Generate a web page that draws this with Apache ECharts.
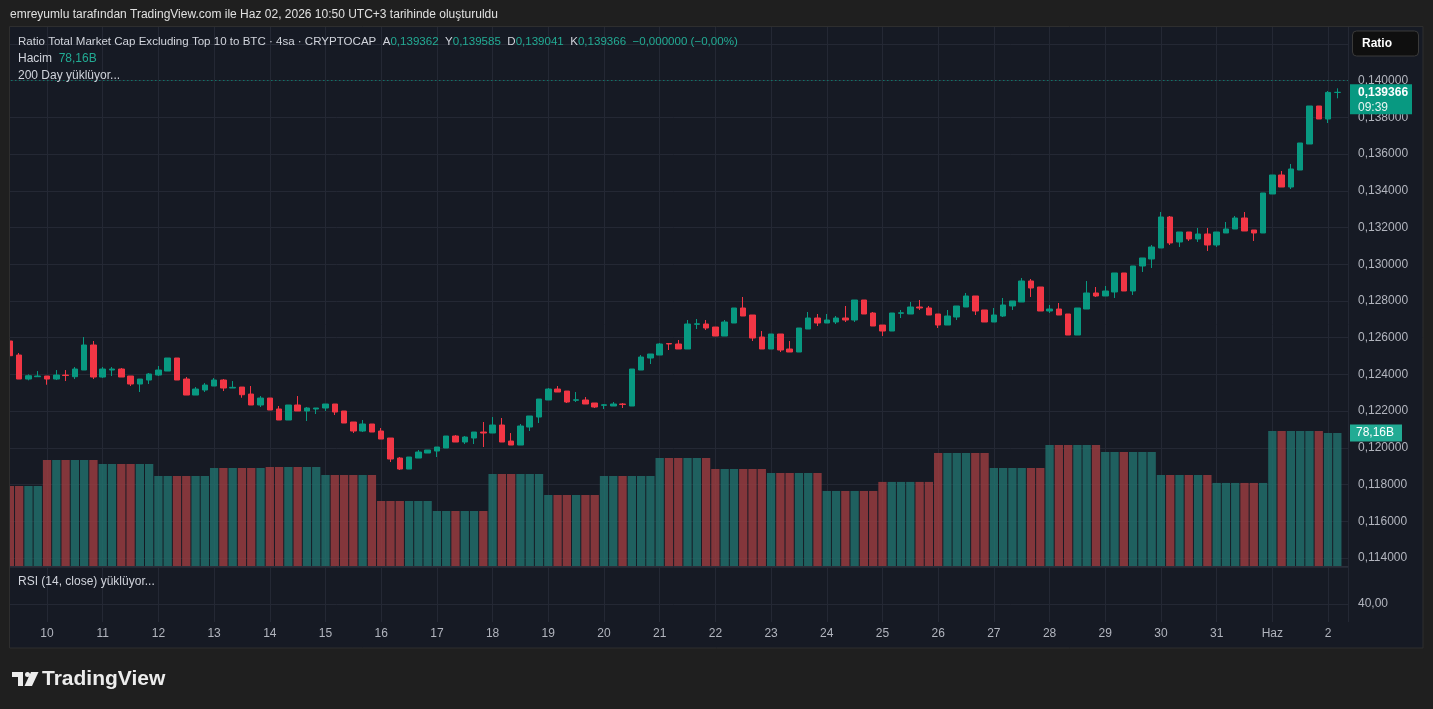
<!DOCTYPE html>
<html>
<head>
<meta charset="utf-8">
<title>Ratio Total Market Cap Excluding Top 10 to BTC</title>
<script src="https://cdn.jsdelivr.net/npm/echarts@6/dist/echarts.min.js"></script>
<style>
html, body { margin: 0; padding: 0; background: #1f1f1f; }
#main { width: 1433px; height: 709px; }
</style>
</head>
<body>
<div id="main"></div>
<script>
// 4 saatlik mumlar, soldan saga (ilk mum 9'u 11:00)
var opens = [
 0.125822, 0.125059, 0.123751, 0.123877, 0.123915, 0.123751, 0.123969, 0.123877, 0.124242, 0.125604,
 0.123860, 0.124242, 0.124296, 0.123915, 0.123479, 0.123697, 0.123969, 0.124187, 0.124896, 0.123751,
 0.122879, 0.123152, 0.123370, 0.123697, 0.123261, 0.123315, 0.122934, 0.122336, 0.122716, 0.122118,
 0.121519, 0.122336, 0.122009, 0.122118, 0.122173, 0.122391, 0.122009, 0.121410, 0.120919, 0.121301,
 0.120919, 0.120538, 0.119448, 0.118849, 0.119448, 0.119721, 0.119830, 0.119993, 0.120647, 0.120320,
 0.120538, 0.120865, 0.120810, 0.121246, 0.120374, 0.120156, 0.121137, 0.121682, 0.122609, 0.123206,
 0.123097, 0.122593, 0.122609, 0.122445, 0.122320, 0.122282, 0.122391, 0.122282, 0.124242, 0.124896,
 0.125059, 0.125686, 0.125659, 0.125386, 0.126732, 0.126748, 0.126584, 0.126094, 0.126802, 0.127620,
 0.127238, 0.126039, 0.125386, 0.126203, 0.125386, 0.125223, 0.126475, 0.127075, 0.126802, 0.126857,
 0.127075, 0.126966, 0.128056, 0.127347, 0.126693, 0.126366, 0.127331, 0.127293, 0.127674, 0.127620,
 0.127293, 0.126693, 0.127129, 0.127674, 0.128274, 0.127511, 0.126857, 0.127184, 0.127729, 0.127947,
 0.129091, 0.128764, 0.127456, 0.127565, 0.127293, 0.126148, 0.127565, 0.128437, 0.128274, 0.128492,
 0.129527, 0.128546, 0.129908, 0.130289, 0.130888, 0.132576, 0.131215, 0.131760, 0.131379, 0.131651,
 0.131052, 0.131705, 0.131923, 0.132522, 0.131869, 0.131705, 0.133829, 0.134864, 0.134210, 0.135136,
 0.136552, 0.138622, 0.137914, 0.139362
];
var highs = [
 0.125877, 0.125168, 0.124007, 0.124187, 0.123915, 0.124242, 0.124242, 0.124405, 0.126039, 0.125822,
 0.124405, 0.124405, 0.124351, 0.123915, 0.123751, 0.124078, 0.124460, 0.124896, 0.124896, 0.123860,
 0.123315, 0.123533, 0.123806, 0.123751, 0.123642, 0.123315, 0.123370, 0.122825, 0.122716, 0.122282,
 0.122336, 0.122825, 0.122227, 0.122173, 0.122391, 0.122391, 0.122009, 0.121410, 0.121519, 0.121301,
 0.121083, 0.120538, 0.119503, 0.119503, 0.119884, 0.119884, 0.120048, 0.120647, 0.120701, 0.120647,
 0.120865, 0.121410, 0.121682, 0.121628, 0.120810, 0.121301, 0.121737, 0.122661, 0.123261, 0.123370,
 0.123097, 0.123043, 0.122770, 0.122445, 0.122391, 0.122500, 0.122445, 0.124296, 0.125059, 0.125114,
 0.125713, 0.125713, 0.125877, 0.126966, 0.127020, 0.126966, 0.126584, 0.126966, 0.127620, 0.128219,
 0.127238, 0.126366, 0.126203, 0.126203, 0.125822, 0.126530, 0.127402, 0.127293, 0.127293, 0.127184,
 0.127729, 0.128056, 0.128056, 0.127402, 0.126693, 0.127347, 0.127511, 0.127947, 0.128056, 0.127729,
 0.127293, 0.127511, 0.127729, 0.128437, 0.128274, 0.127511, 0.127620, 0.128165, 0.128001, 0.129254,
 0.129200, 0.128764, 0.127783, 0.127892, 0.127293, 0.127620, 0.129091, 0.128764, 0.128818, 0.129527,
 0.129527, 0.129908, 0.130344, 0.131052, 0.132849, 0.132631, 0.131760, 0.131760, 0.131978, 0.131978,
 0.131760, 0.132304, 0.132631, 0.132849, 0.131869, 0.133884, 0.134864, 0.135082, 0.135463, 0.136607,
 0.138622, 0.138622, 0.139439, 0.139585
];
var lows = [
 0.124950, 0.123751, 0.123680, 0.123877, 0.123441, 0.123697, 0.123642, 0.123751, 0.124242, 0.123751,
 0.123806, 0.123915, 0.123860, 0.123370, 0.123043, 0.123479, 0.123915, 0.124187, 0.123697, 0.122879,
 0.122879, 0.123043, 0.123370, 0.123097, 0.123261, 0.122732, 0.122336, 0.122227, 0.122064, 0.121519,
 0.121519, 0.122009, 0.121464, 0.121846, 0.122009, 0.121791, 0.121355, 0.120810, 0.120865, 0.120865,
 0.120483, 0.119231, 0.118795, 0.118849, 0.119448, 0.119721, 0.119503, 0.119993, 0.120320, 0.120211,
 0.120211, 0.120048, 0.120810, 0.120320, 0.120156, 0.120156, 0.120919, 0.121355, 0.122609, 0.123043,
 0.122445, 0.122500, 0.122391, 0.122173, 0.122118, 0.122282, 0.122173, 0.122282, 0.124242, 0.124569,
 0.125059, 0.125332, 0.125386, 0.125386, 0.126475, 0.126421, 0.126094, 0.126094, 0.126802, 0.127184,
 0.125822, 0.125386, 0.125386, 0.125223, 0.125223, 0.125223, 0.126475, 0.126639, 0.126802, 0.126748,
 0.126857, 0.126857, 0.127293, 0.126639, 0.126094, 0.126366, 0.127075, 0.127293, 0.127511, 0.127238,
 0.126530, 0.126693, 0.126966, 0.127674, 0.127238, 0.126857, 0.126857, 0.127129, 0.127511, 0.127947,
 0.128219, 0.127456, 0.127347, 0.127238, 0.126148, 0.126148, 0.127565, 0.128219, 0.128274, 0.128165,
 0.128546, 0.128328, 0.129581, 0.129799, 0.130888, 0.131052, 0.130943, 0.131270, 0.131215, 0.130725,
 0.130943, 0.131705, 0.131923, 0.131814, 0.131270, 0.131705, 0.133829, 0.134210, 0.134101, 0.135136,
 0.136552, 0.137914, 0.137696, 0.139041
];
var closes = [
 0.125021, 0.123751, 0.123931, 0.123915, 0.123751, 0.123969, 0.123942, 0.124296, 0.125604, 0.123860,
 0.124296, 0.124296, 0.123860, 0.123479, 0.123751, 0.124024, 0.124242, 0.124896, 0.123697, 0.122879,
 0.123206, 0.123424, 0.123697, 0.123261, 0.123299, 0.122896, 0.122336, 0.122716, 0.122064, 0.121519,
 0.122336, 0.122009, 0.122173, 0.122173, 0.122391, 0.121955, 0.121355, 0.120919, 0.121301, 0.120865,
 0.120483, 0.119394, 0.118849, 0.119503, 0.119775, 0.119884, 0.120048, 0.120647, 0.120320, 0.120592,
 0.120865, 0.120810, 0.121246, 0.120320, 0.120156, 0.121192, 0.121737, 0.122661, 0.123206, 0.123043,
 0.122500, 0.122623, 0.122391, 0.122227, 0.122347, 0.122391, 0.122369, 0.124296, 0.124950, 0.125114,
 0.125659, 0.125659, 0.125386, 0.126748, 0.126759, 0.126530, 0.126094, 0.126857, 0.127620, 0.127184,
 0.125985, 0.125386, 0.126203, 0.125332, 0.125223, 0.126530, 0.127075, 0.126802, 0.126966, 0.127075,
 0.126966, 0.128056, 0.127293, 0.126639, 0.126366, 0.127347, 0.127358, 0.127674, 0.127620, 0.127238,
 0.126693, 0.127184, 0.127729, 0.128274, 0.127456, 0.126857, 0.127238, 0.127783, 0.128001, 0.129091,
 0.128710, 0.127456, 0.127565, 0.127238, 0.126148, 0.127620, 0.128437, 0.128274, 0.128546, 0.129527,
 0.128546, 0.129908, 0.130344, 0.130943, 0.132576, 0.131161, 0.131760, 0.131379, 0.131651, 0.131052,
 0.131760, 0.131923, 0.132522, 0.131814, 0.131705, 0.133884, 0.134864, 0.134210, 0.135191, 0.136607,
 0.138622, 0.137914, 0.139362, 0.139366
];

// gunluk hacim (milyar) ve o gune ait mum sayisi
var dayVolume = [47.0, 62.3, 59.9, 52.9, 57.6, 58.2, 53.5, 38.2, 32.3, 54.1, 41.7, 52.9, 63.5,
                 57.0, 54.7, 44.1, 49.4, 66.4, 57.6, 71.1, 67.0, 53.5, 48.8, 79.3, 78.16];
var dayBars = [4, 6, 6, 6, 6, 6, 6, 6, 6, 6, 6, 6, 6, 6, 6, 6, 6, 6, 6, 6, 6, 6, 6, 6, 2];

// zaman ekseni etiketleri (her gunun ilk mumu)
var dayLabels = ['10', '11', '12', '13', '14', '15', '16', '17', '18', '19', '20', '21',
                 '22', '23', '24', '25', '26', '27', '28', '29', '30', '31', 'Haz', '2'];

var F = "'Liberation Sans', Arial, sans-serif";
var gridColor = '#242834';
var upColor = '#089981', downColor = '#f23645';
var volUp = 'rgba(33,112,108,0.82)', volDown = 'rgba(155,61,65,0.82)';
var xMin = -2, xMax = 144.15;

function tr(v, n) { return v.toFixed(n).replace('.', ','); }

var candles = [], volumes = [];
for (var i = 0; i < opens.length; i++) {
    candles.push([i, opens[i], closes[i], lows[i], highs[i]]);
}
var k = 0;
for (var d = 0; d < dayBars.length; d++) {
    for (var j = 0; j < dayBars[d]; j++) {
        volumes.push([k, dayVolume[d]]);
        k++;
    }
}
var last = opens.length - 1;

function xAx(gi, main) {
    return {
        type: 'value', gridIndex: gi, min: xMin, max: xMax, interval: 6,
        axisLine: {show: gi === 2, onZero: false, lineStyle: {color: '#2b2f3a'}},
        axisTick: {show: false},
        splitLine: {show: main, lineStyle: {color: gridColor, width: 1}},
        axisLabel: main ? {
            show: true, color: '#b2b5be', fontSize: 12, fontFamily: F, margin: 6,
            showMaxLabel: false, showMinLabel: false,
            formatter: function (v) {
                var n = (v - 4) / 6;
                if (Math.abs(n - Math.round(n)) > 1e-6) return '';
                return dayLabels[Math.round(n)] || '';
            }
        } : {show: false}
    };
}

function gridAt(top, height) {
    return {left: -8.666, right: 85, top: top, height: height, outerBoundsMode: 'none', containLabel: false};
}

function txt(color, size) {
    return {color: color, fontSize: size, fontFamily: F, fontWeight: 'normal'};
}

var chart = echarts.init(document.getElementById('main'));
var option = {
    backgroundColor: '#1f1f1f',
    animation: false,
    title: [
        {text: 'emreyumlu tarafından TradingView.com ile Haz 02, 2026 10:50 UTC+3 tarihinde oluşturuldu',
         left: 10, top: 8, padding: 0,
         textStyle: {color: '#e0e0e0', fontSize: 12, fontWeight: 'normal', fontFamily: F, lineHeight: 14}},
        {text: '{n|Ratio Total Market Cap Excluding Top 10 to BTC · 4sa · CRYPTOCAP}  ' +
               '{n|A}{v|' + tr(opens[last], 6) + '}  {n|Y}{v|' + tr(highs[last], 6) + '}  ' +
               '{n|D}{v|' + tr(lows[last], 6) + '}  {n|K}{v|' + tr(closes[last], 6) + '}  ' +
               '{v|−0,000000 (−0,00%)}',
         left: 18, top: 35, padding: 0,
         textStyle: {color: '#d1d4dc', fontSize: 11.55, fontFamily: F, fontWeight: 'normal', lineHeight: 14,
             rich: {n: txt('#d1d4dc', 11.55), v: txt('#22ab94', 11.55)}}},
        {text: '{n|Hacim}  {v|' + tr(dayVolume[dayVolume.length - 1], 2) + 'B}',
         left: 18, top: 52, padding: 0,
         textStyle: {color: '#d1d4dc', fontSize: 12, fontFamily: F, fontWeight: 'normal', lineHeight: 14,
             rich: {n: txt('#d1d4dc', 12), v: txt('#22ab94', 12)}}},
        {text: '200 Day yüklüyor...', left: 18, top: 69, padding: 0,
         textStyle: {color: '#d1d4dc', fontSize: 12, fontWeight: 'normal', fontFamily: F, lineHeight: 14}},
        {text: 'RSI (14, close) yüklüyor...', left: 18, top: 575, padding: 0,
         textStyle: {color: '#d1d4dc', fontSize: 12, fontWeight: 'normal', fontFamily: F, lineHeight: 14}}
    ],
    grid: [
        gridAt(27, 595),        // dikey cizgiler + zaman ekseni
        gridAt(43.98, 514.08),  // fiyat
        gridAt(395.8, 170.2),   // hacim
        gridAt(567, 37)         // RSI
    ],
    xAxis: [xAx(0, true), xAx(1, false), xAx(2, false), xAx(3, false)],
    yAxis: [
        {type: 'value', gridIndex: 0, show: false, min: 0, max: 1},
        {type: 'value', gridIndex: 1, position: 'right', min: 0.114, max: 0.142, interval: 0.002,
         axisLine: {show: false}, axisTick: {show: false},
         splitLine: {lineStyle: {color: gridColor, width: 1}},
         axisLabel: {color: '#b2b5be', fontSize: 12, fontFamily: F, margin: 10,
             formatter: function (v) { return v > 0.1415 ? '' : tr(v, 6); }}},
        {type: 'value', gridIndex: 2, show: false, min: 0, max: 100},
        {type: 'value', gridIndex: 3, position: 'right', min: 40, max: 100, interval: 60,
         axisLine: {show: false}, axisTick: {show: false},
         splitLine: {lineStyle: {color: gridColor, width: 1}},
         axisLabel: {color: '#b2b5be', fontSize: 12, fontFamily: F, margin: 10,
             formatter: function (v) { return v === 40 ? tr(v, 2) : ''; }}}
    ],
    series: [
        {
            name: 'Hacim', type: 'bar', xAxisIndex: 2, yAxisIndex: 2,
            data: volumes, barWidth: 8.3, silent: true,
            itemStyle: {
                color: function (p) {
                    var n = p.dataIndex;
                    return closes[n] >= opens[n] ? volUp : volDown;
                }
            }
        },
        {
            name: 'Ratio', type: 'candlestick', xAxisIndex: 1, yAxisIndex: 1,
            data: candles, barWidth: 6, silent: true,
            itemStyle: {color: upColor, color0: downColor, borderColor: upColor,
                        borderColor0: downColor, borderWidth: 1},
            markLine: {
                symbol: ['none', 'none'], silent: true, animation: false,
                label: {show: false},
                lineStyle: {color: upColor, type: [1, 3], width: 1, opacity: 1},
                data: [{yAxis: closes[last]}]
            }
        }
    ],
    graphic: [
        {id: 'pane', type: 'rect', z: -10, silent: true,
         shape: {x: 9.5, y: 26.5, width: 1413.5, height: 621.5},
         style: {fill: '#161a24'}},
        {id: 'gutter', type: 'rect', z: 90, silent: true,
         shape: {x: 0, y: 26, width: 9.5, height: 623},
         style: {fill: '#1f1f1f'}},
        {id: 'frame', type: 'rect', z: 100, silent: true,
         shape: {x: 9.5, y: 26.5, width: 1413.5, height: 621.5},
         style: {fill: 'none', stroke: '#2e2e2e', lineWidth: 1}},
        {id: 'ratioBtn', type: 'rect', z: 100, silent: true,
         shape: {x: 1352.5, y: 31, width: 66, height: 25, r: 4},
         style: {fill: '#0f0f0f', stroke: '#3a3a3a', lineWidth: 1}},
        {id: 'ratioTxt', type: 'text', z: 101, silent: true, x: 1362, y: 44,
         style: {text: 'Ratio', fill: '#ffffff', font: 'bold 12px ' + F,
                 align: 'left', verticalAlign: 'middle'}},
        {id: 'logoBar', type: 'rect', silent: true, shape: {x: 12, y: 672, width: 11, height: 5},
         style: {fill: '#ececec'}},
        {id: 'logoStem', type: 'rect', silent: true, shape: {x: 18, y: 672, width: 5, height: 14},
         style: {fill: '#ececec'}},
        {id: 'logoDot', type: 'circle', silent: true, shape: {cx: 27.5, cy: 674.5, r: 2.5},
         style: {fill: '#ececec'}},
        {id: 'logoSlant', type: 'polygon', silent: true,
         shape: {points: [[31, 672], [38.5, 672], [32, 686], [24.5, 686]]},
         style: {fill: '#ececec'}},
        {id: 'logoTxt', type: 'text', silent: true, x: 42, y: 679,
         style: {text: 'TradingView', fill: '#ececec', font: 'bold 21px ' + F,
                 align: 'left', verticalAlign: 'middle'}}
    ]
};
chart.setOption(option);

// son fiyat ve hacim etiketleri, eksen olceginden
var py = chart.convertToPixel({yAxisIndex: 1}, closes[last]);
var vy = chart.convertToPixel({yAxisIndex: 2}, dayVolume[dayVolume.length - 1]);
chart.setOption({
    graphic: [
        {id: 'priceBox', type: 'rect', z: 110, silent: true,
         shape: {x: 1350, y: py - 8, width: 62, height: 30},
         style: {fill: upColor}},
        {id: 'priceTxt', type: 'text', z: 111, silent: true, x: 1358, y: py,
         style: {text: tr(closes[last], 6), fill: '#ffffff', font: 'bold 12px ' + F,
                 align: 'left', verticalAlign: 'middle'}},
        {id: 'timeTxt', type: 'text', z: 111, silent: true, x: 1358, y: py + 15,
         style: {text: '09:39', fill: '#e8f5f2', font: '12px ' + F,
                 align: 'left', verticalAlign: 'middle'}},
        {id: 'volBox', type: 'rect', z: 110, silent: true,
         shape: {x: 1350, y: vy - 8.5, width: 52, height: 17},
         style: {fill: '#22ab94'}},
        {id: 'volTxt', type: 'text', z: 111, silent: true, x: 1356, y: vy,
         style: {text: tr(dayVolume[dayVolume.length - 1], 2) + 'B', fill: '#ffffff',
                 font: '12px ' + F, align: 'left', verticalAlign: 'middle'}}
    ]
});
</script>
</body>
</html>
